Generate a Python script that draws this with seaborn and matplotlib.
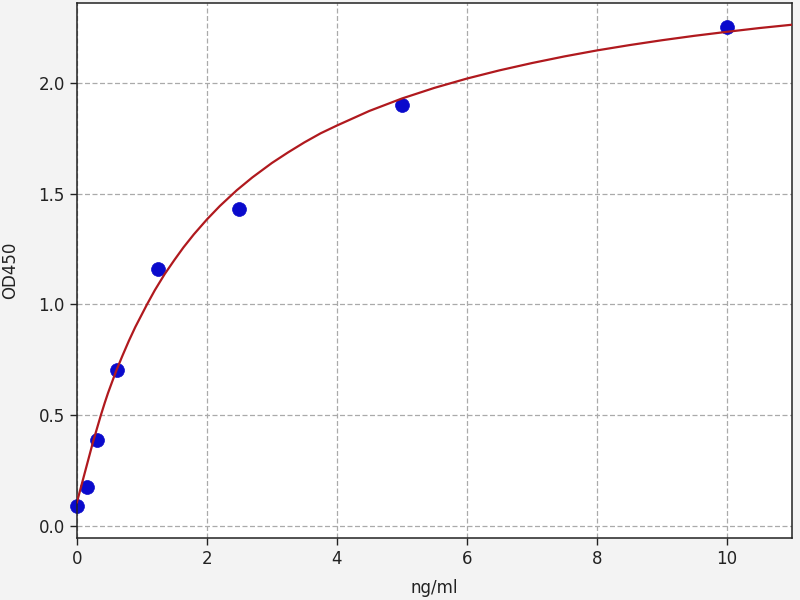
import seaborn as sns
import matplotlib.pyplot as plt
import pandas as pd

# standards (ng/ml) and measured OD450
conc = [0, 0.156, 0.3125, 0.625, 1.25, 2.5, 5, 10]
od450 = [0.09, 0.175, 0.39, 0.705, 1.16, 1.43, 1.90, 2.25]

# fitted curve
curve_x = [0.0, 0.05, 0.10, 0.15, 0.20, 0.25, 0.30, 0.37, 0.43, 0.48, 0.54, 0.61,
           0.70, 0.80, 0.90, 1.08, 1.20, 1.35, 1.50, 1.64, 1.80, 2.00, 2.20, 2.46,
           2.70, 3.00, 3.25, 3.50, 3.75, 4.00, 4.50, 5.00, 5.50, 6.00, 6.50, 7.00,
           7.50, 8.00, 8.50, 9.00, 9.50, 10.0, 10.5, 11.0]
curve_y = [0.105, 0.16, 0.215, 0.27, 0.325, 0.38, 0.43, 0.50, 0.556, 0.60, 0.648, 0.703,
           0.767, 0.835, 0.898, 1.00, 1.064, 1.136, 1.20, 1.257, 1.316, 1.383, 1.444, 1.515,
           1.573, 1.638, 1.686, 1.731, 1.772, 1.807, 1.873, 1.929, 1.977, 2.019, 2.056, 2.089,
           2.119, 2.146, 2.170, 2.192, 2.212, 2.230, 2.247, 2.262]

points = pd.DataFrame({'conc': conc, 'od': od450})
fit = pd.DataFrame({'conc': curve_x, 'od': curve_y})

sns.set_style("ticks")
plt.rcParams['font.family'] = ['DejaVu Sans']

fig = plt.figure(figsize=(8, 6), dpi=100, facecolor='#f3f3f3')
ax = fig.add_axes([0.096, 0.103, 0.894, 0.892])
ax.set_facecolor('white')

sns.scatterplot(data=points, x='conc', y='od', ax=ax, color='#0a0acc',
                s=100, edgecolor='#0a0acc', linewidth=0.5, zorder=2, clip_on=False)
sns.lineplot(data=fit, x='conc', y='od', ax=ax, color='#b0191e', linewidth=1.6,
             sort=False, estimator=None, zorder=3)

ax.set_xlim(0, 11)
ax.set_ylim(-0.055, 2.36)
ax.set_xticks([0, 2, 4, 6, 8, 10])
ax.set_yticks([0.0, 0.5, 1.0, 1.5, 2.0])
ax.set_yticklabels(['0.0', '0.5', '1.0', '1.5', '2.0'])
ax.grid(True, linestyle=(0, (4, 2)), color='#aaaaaa', linewidth=0.9)
ax.set_axisbelow(True)

for sp in ax.spines.values():
    sp.set_visible(True)
    sp.set_color('#222222')
    sp.set_linewidth(1.1)

ax.tick_params(labelsize=12, length=5, width=1, colors='#222222')
ax.set_xlabel('ng/ml', fontsize=12, color='#222222', labelpad=8)
ax.set_ylabel('OD450', fontsize=12, color='#222222', labelpad=14)

plt.savefig('out.png', dpi=100, facecolor=fig.get_facecolor())
plt.close('all')
